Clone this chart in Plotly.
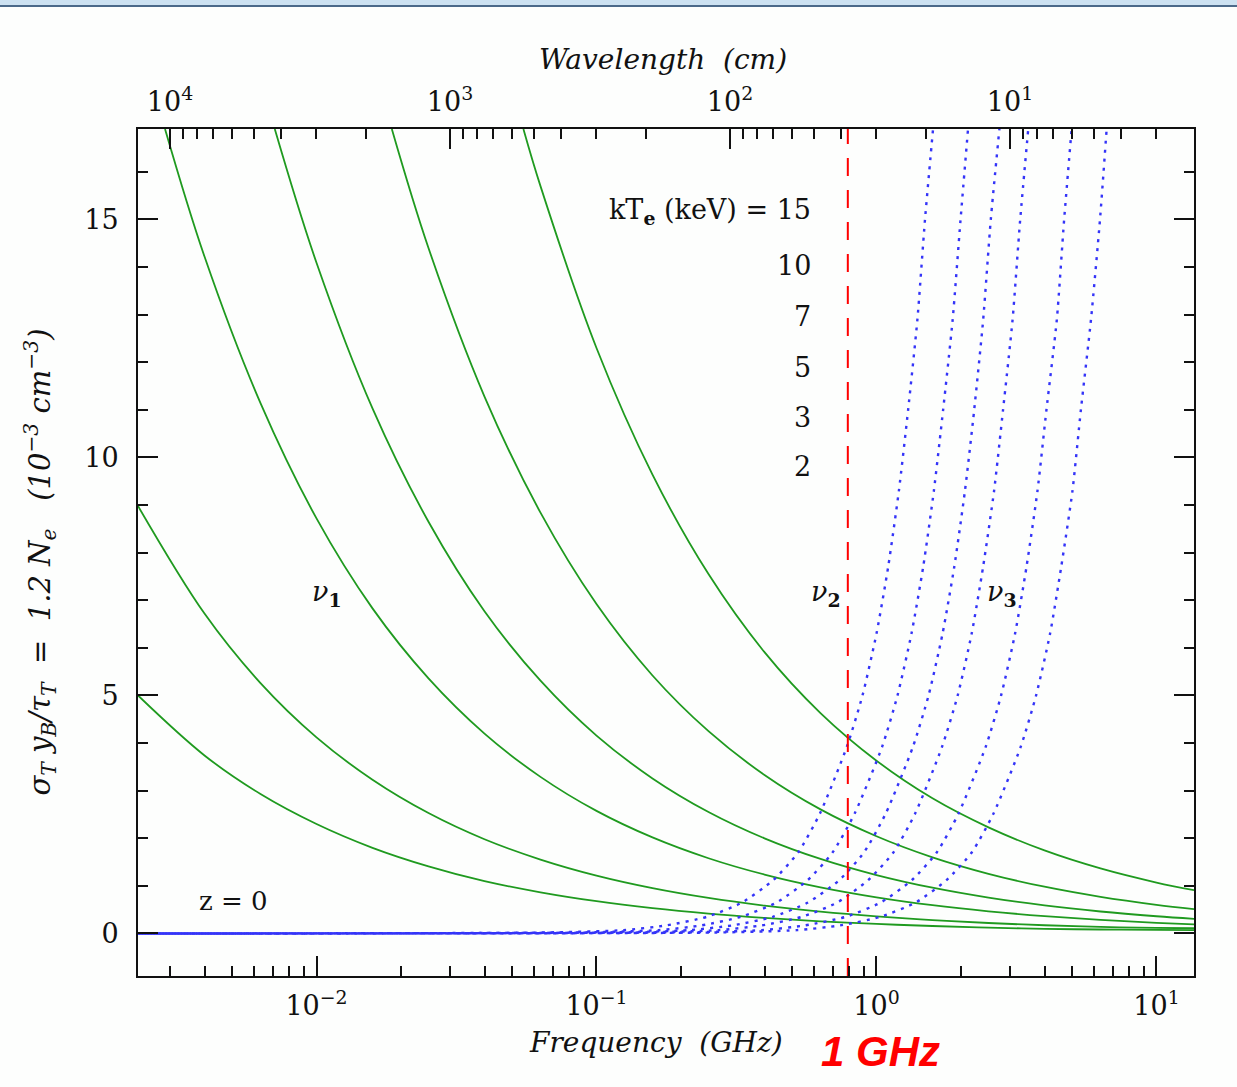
import numpy as np
import plotly.graph_objects as go

# ---------------------------------------------------------------------------
# Data: log10(frequency / GHz) and y = sigma_T y_B / tau_T  (1e-3 cm^-3)
# ---------------------------------------------------------------------------
kt_values = [15, 10, 7, 5, 3, 2]

# common frequency samples for the nu_1 tracks
nu1_logf_full = [-2.6375, -2.4, -2.2, -2.0, -1.8, -1.6, -1.4, -1.2, -1.0, -0.8, -0.6,
                 -0.4, -0.2, 0.0, 0.2, 0.4, 0.6, 0.8, 1.0, 1.134]

# nu_1 tracks (solid green), one per electron temperature
nu1_y_kt15 = [5.0, 3.74, 2.93, 2.30, 1.80, 1.41, 1.10, 0.865, 0.678, 0.531, 0.416,
              0.326, 0.255, 0.20, 0.157, 0.123, 0.098, 0.084, 0.075, 0.07]
nu1_y_kt10 = [8.98, 6.72, 5.26, 4.12, 3.23, 2.53, 1.98, 1.553, 1.216, 0.953, 0.747,
              0.585, 0.458, 0.359, 0.281, 0.220, 0.173, 0.138, 0.118, 0.11]

nu1_logf_kt7 = [-2.541, -2.4, -2.2, -2.0, -1.8, -1.6, -1.4, -1.2, -1.0, -0.8, -0.6,
                -0.4, -0.2, 0.0, 0.2, 0.4, 0.6, 0.8, 1.0, 1.134]
nu1_y_kt7 = [16.9, 14.22, 11.14, 8.72, 6.83, 5.36, 4.20, 3.29, 2.575, 2.018, 1.581,
             1.238, 0.970, 0.76, 0.595, 0.466, 0.365, 0.286, 0.224, 0.19]

nu1_logf_kt5 = [-2.149, -2.0, -1.8, -1.6, -1.4, -1.2, -1.0, -0.8, -0.6, -0.4, -0.2,
                0.0, 0.2, 0.4, 0.6, 0.8, 1.0, 1.134]
nu1_y_kt5 = [16.9, 14.09, 11.03, 8.65, 6.77, 5.31, 4.157, 3.258, 2.552, 1.999, 1.566,
             1.227, 0.961, 0.753, 0.590, 0.462, 0.362, 0.307]

nu1_logf_kt3 = [-1.731, -1.6, -1.4, -1.2, -1.0, -0.8, -0.6, -0.4, -0.2, 0.0, 0.2,
                0.4, 0.6, 0.8, 1.0, 1.134]
nu1_y_kt3 = [16.9, 14.40, 11.28, 8.84, 6.92, 5.42, 4.25, 3.33, 2.607, 2.043, 1.600,
             1.254, 0.982, 0.770, 0.603, 0.512]

nu1_logf_kt2 = [-1.261, -1.2, -1.0, -0.8, -0.6, -0.4, -0.2, 0.0, 0.2, 0.4, 0.6,
                0.8, 1.0, 1.134]
nu1_y_kt2 = [16.9, 15.70, 12.30, 9.64, 7.55, 5.91, 4.63, 3.63, 2.84, 2.23, 1.745,
             1.367, 1.071, 0.910]

# nu_3 tracks (dotted blue): sampled at common y levels
nu3_y = [0.0, 0.02, 0.07, 0.17, 0.35, 0.65, 1.12, 1.7, 2.52, 3.92, 5.0, 6.3, 7.71, 9.3, 11.0, 12.89, 14.98, 16.9]
nu3_logf_a = [-2.640, -1.2, -0.904, -0.75, -0.606, -0.48, -0.369, -0.28, -0.202, -0.106, -0.05, 0.0, 0.042, 0.08, 0.113, 0.146, 0.173, 0.202]
nu3_logf_b = [-2.646, -1.08, -0.78, -0.625, -0.485, -0.357, -0.246, -0.157, -0.078, 0.02, 0.075, 0.125, 0.167, 0.205, 0.238, 0.272, 0.300, 0.327]
nu3_logf_c = [-2.651, -0.97, -0.67, -0.515, -0.37, -0.245, -0.133, -0.045, 0.033, 0.13, 0.186, 0.236, 0.278, 0.316, 0.349, 0.381, 0.408, 0.439]
nu3_logf_d = [-2.657, -0.86, -0.565, -0.41, -0.266, -0.14, -0.03, 0.06, 0.138, 0.234, 0.29, 0.34, 0.381, 0.42, 0.452, 0.486, 0.513, 0.542]
nu3_logf_e = [-2.662, -0.71, -0.41, -0.255, -0.11, 0.015, 0.126, 0.215, 0.293, 0.39, 0.445, 0.495, 0.536, 0.575, 0.607, 0.644, 0.670, 0.697]
nu3_logf_f = [-2.668, -0.58, -0.285, -0.13, 0.014, 0.14, 0.25, 0.34, 0.418, 0.515, 0.57, 0.62, 0.66, 0.70, 0.73, 0.766, 0.798, 0.822]

# reference observing frequency (GHz), quoted as "1 GHz"
ref_freq_ghz = 0.79

# axis extents
freq_range_log = [-2.6375, 1.134]
y_range = [-0.893, 16.9]
freq_tick_vals = [0.01, 0.1, 1, 10]
freq_tick_text = ["10<sup>\u22122</sup>", "10<sup>\u22121</sup>", "10<sup>0</sup>", "10<sup>1</sup>"]
wave_tick_vals = [10, 100, 1000, 10000]
wave_tick_text = ["10<sup>1</sup>", "10<sup>2</sup>", "10<sup>3</sup>", "10<sup>4</sup>"]
C_CM_GHZ = 29.9792458  # wavelength (cm) = C / frequency (GHz)

GREEN = "#1f9a1f"
BLUE = "#3434f8"
INK = "#111111"
SERIF = "DejaVu Serif"

fig = go.Figure()

nu1_sets = [
    (nu1_logf_full, nu1_y_kt15), (nu1_logf_full, nu1_y_kt10), (nu1_logf_kt7, nu1_y_kt7),
    (nu1_logf_kt5, nu1_y_kt5), (nu1_logf_kt3, nu1_y_kt3), (nu1_logf_kt2, nu1_y_kt2),
]
for kt, (lf, yv) in zip(kt_values, nu1_sets):
    fig.add_trace(go.Scatter(
        x=10 ** np.array(lf), y=yv, mode="lines", name=f"nu1 kT={kt}",
        line=dict(color=GREEN, width=1.8, shape="spline", smoothing=1.0),
        hoverinfo="skip"))

for lf in [nu3_logf_a, nu3_logf_b, nu3_logf_c, nu3_logf_d, nu3_logf_e, nu3_logf_f]:
    fig.add_trace(go.Scatter(
        x=10 ** np.array(lf), y=nu3_y, mode="lines",
        line=dict(color=BLUE, width=2.4, dash="3px,6px", shape="spline", smoothing=0.6),
        hoverinfo="skip"))

# vertical marker at the reference frequency
fig.add_trace(go.Scatter(
    x=[ref_freq_ghz, ref_freq_ghz], y=y_range, mode="lines",
    line=dict(color="#ff0000", width=2, dash="18px,14px"), hoverinfo="skip"))

# invisible trace to anchor the wavelength axis
wl_edges = [C_CM_GHZ / 10 ** freq_range_log[0], C_CM_GHZ / 10 ** freq_range_log[1]]
fig.add_trace(go.Scatter(x=wl_edges, y=[0, 0], xaxis="x2", mode="lines",
                         line=dict(width=0), opacity=0, hoverinfo="skip"))

minor_freq = [m * 10.0 ** e for e in range(-3, 2) for m in range(2, 10)]
minor_wave = [m * 10.0 ** e for e in range(0, 5) for m in range(2, 10)]

axis_common = dict(showgrid=False, zeroline=False, showline=True, linecolor=INK,
                   linewidth=2, ticks="inside", tickcolor=INK, tickwidth=1.5,
                   tickfont=dict(family=SERIF, size=27, color=INK))

fig.update_layout(
    width=1237, height=1087,
    margin=dict(l=138, r=43, t=129, b=111),
    paper_bgcolor="#fdfefd", plot_bgcolor="#fdfefd",
    showlegend=False,
    xaxis=dict(type="log", range=freq_range_log, tickmode="array",
               tickvals=freq_tick_vals, ticktext=freq_tick_text, ticklen=20,
               ticklabelstandoff=5,
               minor=dict(tickmode="array", tickvals=minor_freq, ticks="inside",
                          ticklen=10, tickcolor=INK, tickwidth=1.5),
               **axis_common),
    xaxis2=dict(type="log", overlaying="x", side="top", anchor="y",
                range=[np.log10(wl_edges[0]), np.log10(wl_edges[1])],
                tickmode="array", tickvals=wave_tick_vals, ticktext=wave_tick_text,
                ticklen=20, ticklabelstandoff=5,
                minor=dict(tickmode="array", tickvals=minor_wave, ticks="inside",
                           ticklen=10, tickcolor=INK, tickwidth=1.5),
                **axis_common),
    yaxis=dict(range=y_range, tickmode="array", tickvals=[0, 5, 10, 15], ticklen=20,
               mirror="ticks", ticklabelstandoff=12,
               minor=dict(dtick=1, ticks="inside", ticklen=10, tickcolor=INK,
                          tickwidth=1.5),
               **axis_common),
)

# window title bar strip above the figure
fig.add_shape(type="rect", xref="paper", yref="paper", x0=-0.2, x1=1.2,
              y0=1 + 123 / 847, y1=1 + 140 / 847, fillcolor="#cde2f2", line_width=0, layer="above")
fig.add_shape(type="line", xref="paper", yref="paper", x0=-0.2, x1=1.2,
              y0=1 + 123 / 847, y1=1 + 123 / 847, line=dict(color="#4c6a8a", width=2))

ann = []
# temperature list
ann.append(dict(x=-0.227, y=15.16, xref="x", yref="y", xanchor="right", yanchor="middle",
                text="kT<sub><b>e</b></sub> (keV) = 15", showarrow=False,
                font=dict(family=SERIF, size=27, color=INK)))
for t, yy in zip(kt_values[1:], [14.04, 12.97, 11.90, 10.85, 9.80]):
    ann.append(dict(x=-0.227, y=yy, xref="x", yref="y", xanchor="right", yanchor="middle",
                    text=str(t), showarrow=False,
                    font=dict(family=SERIF, size=27, color=INK)))
# track labels
for lab, lx in [("1", -1.9625), ("2", -0.180), ("3", 0.448)]:
    ann.append(dict(x=lx, y=7.15, xref="x", yref="y", xanchor="center", yanchor="middle",
                    text=f"<i>\u03bd</i><sub><b>{lab}</b></sub>", showarrow=False,
                    font=dict(family=SERIF, size=27, color=INK)))
ann.append(dict(x=-2.298, y=0.68, xref="x", yref="y", xanchor="center", yanchor="middle",
                text="z = 0", showarrow=False, font=dict(family=SERIF, size=26, color=INK)))
# axis titles
ann.append(dict(x=0.4905, y=-0.079, xref="paper", yref="paper", xanchor="center", yanchor="middle",
                text="<i>Frequency  (GHz)</i>", showarrow=False,
                font=dict(family=SERIF, size=28, color=INK)))
ann.append(dict(x=0.497, y=1.0815, xref="paper", yref="paper", xanchor="center", yanchor="middle",
                text="<i>Wavelength  (cm)</i>", showarrow=False,
                font=dict(family=SERIF, size=28, color=INK)))
ann.append(dict(x=-0.093, y=0.489, xref="paper", yref="paper", xanchor="center", yanchor="middle",
                textangle=-90,
                text="<i>\u03c3<sub>T</sub> y<sub>B</sub>/\u03c4<sub>T</sub>  =  1.2 N<sub>e</sub>   (10<sup>\u22123</sup> cm<sup>\u22123</sup>)</i>",
                showarrow=False, font=dict(family=SERIF, size=29, color=INK)))
ann.append(dict(x=0.7027, y=-0.0897, xref="paper", yref="paper", xanchor="center", yanchor="middle",
                text="<b><i>1 GHz</i></b>", showarrow=False,
                font=dict(family="Liberation Sans", size=42, color="#ff0000")))
fig.update_layout(annotations=ann)

fig.write_html("out.html")
